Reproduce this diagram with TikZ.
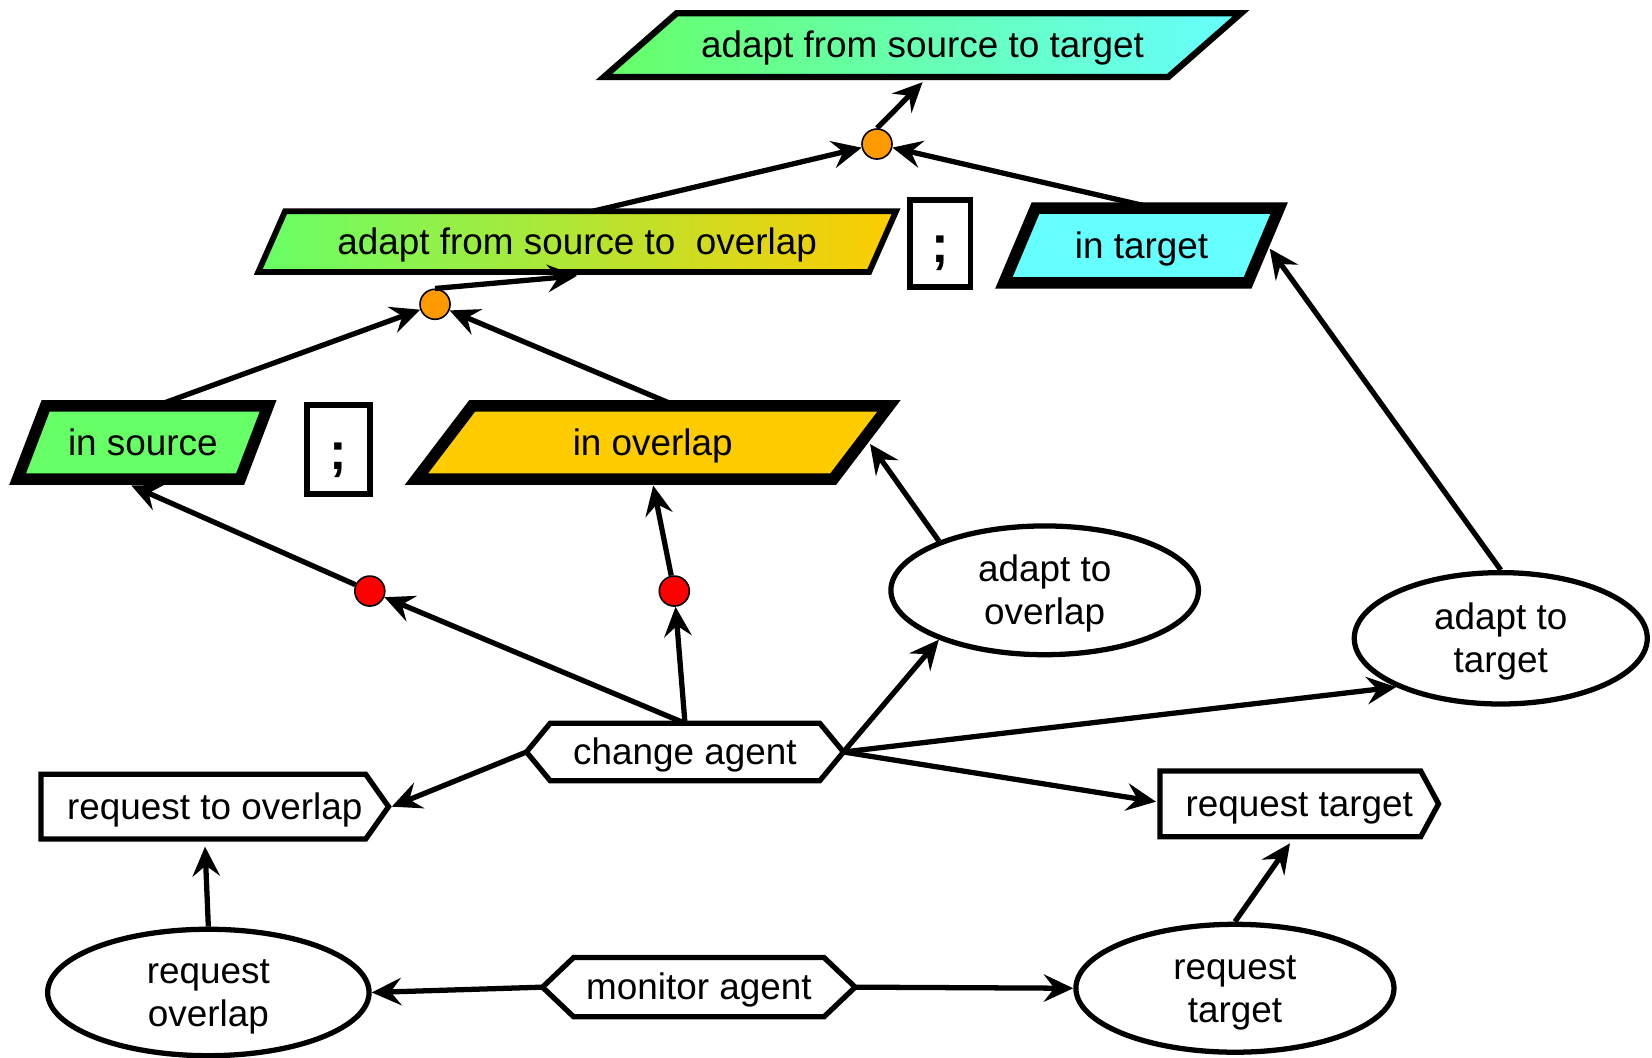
\documentclass[tikz,border=0pt]{standalone}
\usepackage{fontspec}
\setmainfont{Liberation Sans}
\usetikzlibrary{calc,arrows.meta,shapes.geometric}
\definecolor{cgreen}{RGB}{102,255,102}
\definecolor{ccyan}{RGB}{102,255,255}
\definecolor{cyellow}{RGB}{255,204,0}
\definecolor{corange}{RGB}{255,153,0}
\definecolor{cred}{RGB}{255,0,0}
\pgfdeclarelayer{bg}
\pgfsetlayers{bg,main}

% outline helpers: drawn around a named node's bounding box
\newcommand\parashape[3]{%
  \path[#3] ($(#1.north west)+(#2,0)$) -- (#1.north east)
    -- ($(#1.south east)-(#2,0)$) -- (#1.south west) -- cycle;}
\newcommand\hexshape[3]{%
  \path[#3] (#1.west) -- ($(#1.north west)+(#2,0)$) -- ($(#1.north east)-(#2,0)$)
    -- (#1.east) -- ($(#1.south east)-(#2,0)$) -- ($(#1.south west)+(#2,0)$) -- cycle;}
\newcommand\tagshape[3]{%
  \path[#3] (#1.north west) -- ($(#1.north east)-(#2,0)$) -- (#1.east)
    -- ($(#1.south east)-(#2,0)$) -- (#1.south west) -- cycle;}

\begin{document}
\begin{tikzpicture}[x=1pt,y=-1pt,
  font=\fontsize{35}{41}\selectfont,
  box/.style={rectangle, inner sep=0pt, outer sep=0pt, align=center,
    text height=31pt, text depth=7pt},
  ell/.style={ellipse, draw, line width=5pt, inner sep=0pt, align=center,
    text height=72pt, text depth=7pt},
  dotnode/.style={circle, draw, line width=1.5pt, inner sep=0pt, minimum size=28.5pt},
  semi/.style={rectangle, draw, line width=5.5pt, inner sep=0pt,
    font=\fontsize{50}{50}\selectfont\bfseries, text height=41pt, text depth=4pt},
  conn/.style={line width=5pt, -{Stealth[length=28pt,width=26pt,inset=10pt]}},
  thin/.style={draw, line width=5pt},
]
\useasboundingbox (0,0) rectangle (1568,1004);

% goal and intermediate states
\node[box, minimum width=604.7pt, minimum height=60.5pt] (top) at (875.65,42.75) {adapt from source to target};
\node[box, minimum width=605.4pt, minimum height=57.8pt] (aov) at (547.8,229.35) {adapt from source to\ \ overlap};
\node[box, minimum width=261.3pt, minimum height=71pt] (int) at (1083.5,233) {in target};
\node[box, minimum width=237.8pt, minimum height=69.6pt] (insrc) at (135.6,420) {in source};
\node[box, minimum width=448.6pt, minimum height=69.6pt] (inov) at (619.5,420) {in overlap};

% sequencing marks
\node[semi, minimum width=57.3pt, minimum height=83.1pt] (semi1) at (892.4,231) {;};
\node[semi, minimum width=59.7pt, minimum height=84pt] (semi2) at (321.1,426.65) {;};

% junction dots
\node[dotnode, fill=corange] (dot1) at (832.4,136.7) {};
\node[dotnode, fill=corange] (dot2) at (412.9,288.8) {};
\node[dotnode, fill=cred] (rd1) at (351,561) {};
\node[dotnode, fill=cred] (rd2) at (640,561) {};

% agents and requests
\node[box, minimum width=300.9pt, minimum height=54.5pt] (ca) at (650.15,713.75) {change agent};
\node[box, minimum width=296.8pt, minimum height=56.1pt] (ma) at (663.3,936.95) {monitor agent};
\node[box, minimum width=329.9pt, minimum height=61.5pt] (rto) at (203.85,765.65) {request to overlap};
\node[box, minimum width=264.4pt, minimum height=62.3pt] (rtg) at (1233.2,762.95) {request target};

% actions
\node[ell, minimum width=291.9pt, minimum height=122.2pt] (ato) at (991.55,560.3) {adapt to\\overlap};
\node[ell, minimum width=278.1pt, minimum height=124.7pt] (att) at (1424.45,605.85) {adapt to\\target};
\node[ell, minimum width=305.1pt, minimum height=120pt] (rov) at (197.75,942) {request\\overlap};
\node[ell, minimum width=301.9pt, minimum height=121.4pt] (rtgE) at (1172.15,938) {request\\target};

\begin{pgfonlayer}{bg}
  \parashape{top}{69}{draw, line width=6pt, left color=cgreen, right color=ccyan}
  \parashape{aov}{25.5}{draw, line width=5.5pt, left color=cgreen, right color=cyellow}
  \parashape{int}{30}{draw, line width=11pt, fill=ccyan}
  \parashape{insrc}{26.6}{draw, line width=11pt, fill=cgreen}
  \parashape{inov}{53}{draw, line width=11pt, fill=cyellow}
  \hexshape{ca}{22.5}{thin}
  \hexshape{ma}{29.5}{thin}
  \tagshape{rto}{21.7}{thin}
  \tagshape{rtg}{16.9}{thin}
\end{pgfonlayer}

% connectors
\draw[conn] (dot1.north) -- ($(top.south)+(0,5)$);
\draw[conn] ($(aov.north)+(15,0)$) -- (dot1);
\draw[conn] ($(int.north)+(12.4,0)$) -- (dot1);
\draw[conn] (dot2.north) -- ($(aov.south)+(0,3.5)$);
\draw[conn] ($(insrc.north)+(12.7,0)$) -- (dot2);
\draw[conn] ($(inov.north)+(22.1,0)$) -- (dot2);
\draw[conn] (ca.north) -- (rd1);
\draw[conn] (rd1) -- ($(insrc.south)+(-11,6)$);
\draw[conn] (ca.north) -- (rd2);
\draw[conn] (rd2) -- ($(inov.south)+(0.5,6)$);
\draw[conn] (ato.155) -- ($(inov.east)+(-18,1.4)$);
\draw[conn] (att.north) -- ($(int.east)+(-9,3)$);
\draw[conn] (ca.east) -- (ato.205);
\draw[conn] (ca.east) -- (att.205);
\draw[conn] (ca.east) -- ($(rtg.west)+(-3.8,-2)$);
\draw[conn] (ca.west) -- ($(rto.east)+(3,0)$);
\draw[conn] (rov.north) -- ($(rto.south)+(-9.25,7.2)$);
\draw[conn] (rtgE.north) -- ($(rtg.south)+(-8.8,6.3)$);
\draw[conn] (ma.west) -- (rov.east);
\draw[conn] (ma.east) -- (rtgE.west);
\end{tikzpicture}
\end{document}
